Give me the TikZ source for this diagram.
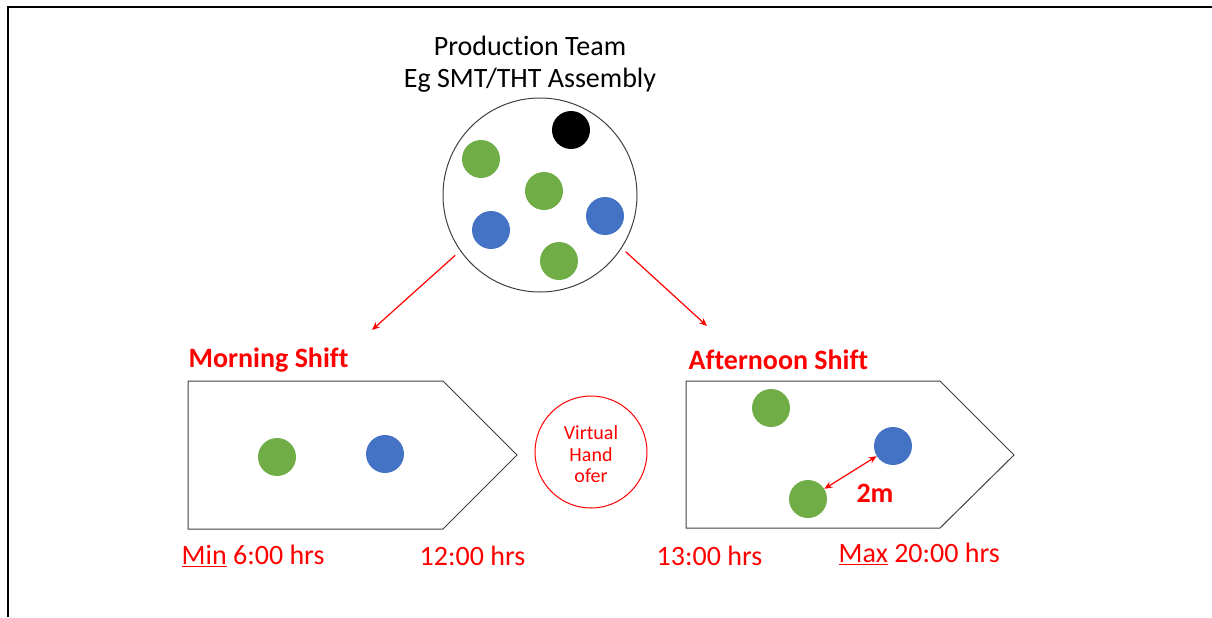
\documentclass[tikz,border=0pt]{standalone}
\usepackage{fontspec}
\setmainfont{Carlito}[Ligatures=NoCommon]
\usetikzlibrary{arrows.meta}
\definecolor{dotgreen}{HTML}{70AD47}
\definecolor{dotblue}{HTML}{4472C4}
\definecolor{shiftred}{HTML}{FF0000}
\definecolor{edgegray}{HTML}{404040}
\tikzset{
  dot/.style={circle,fill=#1,minimum size=28.5pt,inner sep=0pt},
  shiftlabel/.style={anchor=west,text=shiftred,font=\fontsize{21}{24}\selectfont\bfseries},
  timelabel/.style={anchor=west,text=shiftred,font=\fontsize{21}{24}\selectfont},
  shiftbox/.style={draw=edgegray,line width=0.75pt,line join=miter},
  redarrow/.style={draw=shiftred,line width=0.9pt,-{Stealth[length=6pt,width=5pt]}}
}
\begin{document}
\begin{tikzpicture}[x=0.75pt,y=-0.75pt]
\useasboundingbox (0,0) rectangle (1212,617);
% frame
\draw[line width=1.6pt] (8,617) -- (8,7) -- (1212,7);
% production team
\node[align=center,font=\fontsize{21}{24}\selectfont] (title) at (530,64) {Production Team\\Eg SMT/THT Assembly};
\node[circle,draw=edgegray,line width=0.75pt,minimum size=145.5pt,inner sep=0pt] (team) at (540,195) {};
\node[dot=black] (k1) at (571,130) {};
\node[dot=dotgreen] (g1) at (481,159) {};
\node[dot=dotgreen] (g2) at (544,191) {};
\node[dot=dotblue] (b1) at (491,230) {};
\node[dot=dotblue] (b2) at (605,216) {};
\node[dot=dotgreen] (g3) at (559,261) {};
\coordinate (mtip) at (372,330);
\coordinate (atip) at (707,326);
\draw[redarrow,shorten <=5pt] (team.215) -- (mtip);
\draw[redarrow,shorten <=4pt] (team.327) -- (atip);
% morning shift
\node[shiftlabel] (mlabel) at (184,360) {Morning Shift};
\draw[shiftbox] (188,381) -- (443,381) -- (517,455) -- (443,529) -- (188,529) -- cycle;
\node[dot=dotgreen] (mg) at (277,457) {};
\node[dot=dotblue] (mb) at (385,454) {};
\node[timelabel] (mstart) at (177,556) {\underline{Min} 6:00 hrs};
\node[timelabel] (mend) at (415,556) {12:00 hrs};
% hand over
\node[circle,draw=shiftred,line width=0.75pt,minimum size=84pt,inner sep=0pt,
  align=center,text=shiftred,font=\fontsize{15}{16}\selectfont] (handover) at (591,452) {\rule{0pt}{14pt}Virtual\\Hand\\ofer};
% afternoon shift
\node[shiftlabel] (alabel) at (684,360) {Afternoon Shift};
\draw[shiftbox] (686,381) -- (940,381) -- (1014,455) -- (940,528) -- (686,528) -- cycle;
\node[dot=dotgreen] (ag1) at (771,408) {};
\node[dot=dotblue] (ab) at (893,446) {};
\node[dot=dotgreen] (ag2) at (808,499) {};
\draw[draw=shiftred,line width=0.9pt,{Stealth[length=6pt,width=5pt]}-{Stealth[length=6pt,width=5pt]}] (ag2) -- (ab);
\node[text=shiftred,font=\fontsize{21}{24}\selectfont\bfseries] (dist) at (875,493) {2m};
\node[timelabel] (astart) at (652,556) {13:00 hrs};
\node[timelabel] (aend) at (834,554) {\underline{Max} 20:00 hrs};
\end{tikzpicture}
\end{document}
